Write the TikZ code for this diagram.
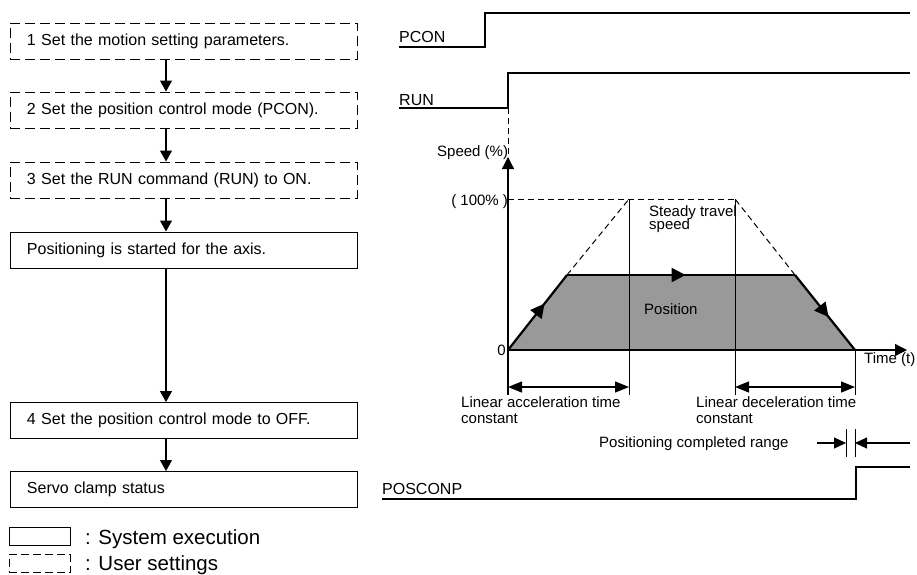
\documentclass[tikz,border=0pt]{standalone}
\usepackage{fontspec}
\setmainfont{Liberation Sans}
\usetikzlibrary{arrows.meta,decorations.markings}
\newcommand\flowfont{\fontsize{16}{19}\selectfont}
\newcommand\chartfont{\fontsize{15}{17}\selectfont}
\newcommand\sigfont{\fontsize{16}{19}\selectfont}
\newcommand\legfont{\fontsize{20.5}{24}\selectfont}
\definecolor{posgray}{RGB}{153,153,153}
\begin{document}
\begin{tikzpicture}[x=1pt,y=-1pt,
  sysbox/.style={draw, line width=1pt, minimum width=347pt, minimum height=36pt,
    text width=313pt, inner xsep=17pt, inner ysep=0pt, align=left, font=\flowfont},
  userbox/.style={sysbox, dash pattern=on 10pt off 5pt},
  flowarrow/.style={line width=1.2pt, -{Triangle[width=12pt,length=11pt]}},
  sig/.style={line width=1.3pt},
  guide/.style={line width=1pt},
  dashline/.style={line width=1pt, dash pattern=on 6pt off 4pt},
  axisline/.style={line width=1.3pt, -{Triangle[width=12pt,length=12pt]}},
  thickline/.style={line width=2.2pt},
  dimarrow/.style={line width=1.2pt, {Triangle[width=11pt,length=14pt]}-{Triangle[width=11pt,length=14pt]}},
  rangearrow/.style={line width=1.2pt, -{Triangle[width=11pt,length=12pt]}},
  chartlabel/.style={font=\chartfont, inner sep=0pt, anchor=base west},
  siglabel/.style={font=\sigfont, inner sep=0pt, anchor=base west},
  midarrow/.style={postaction={decorate}, decoration={markings,
    mark=at position #1 with {\arrow{Triangle[width=14pt,length=14pt]}}}}
]
\useasboundingbox (0,0) rectangle (917,574);

% ---------- flowchart ----------
\node[userbox] (b1) at (183.5,41) {1 Set the motion setting parameters.};
\node[userbox] (b2) at (183.5,110) {2 Set the position control mode (PCON).};
\node[userbox] (b3) at (183.5,180) {3 Set the RUN command (RUN) to ON.};
\node[sysbox] (b4) at (183.5,250) {Positioning is started for the axis.};
\node[sysbox] (b5) at (183.5,420.5) {4 Set the position control mode to OFF.};
\node[sysbox] (b6) at (183.5,489.5) {Servo clamp status};
\coordinate (ax) at (166,0);
\foreach \a/\b in {b1/b2,b2/b3,b3/b4,b4/b5,b5/b6}
  \draw[flowarrow] (\a.south -| ax) -- (\b.north -| ax);

% ---------- legend ----------
\node[draw, line width=1pt, minimum width=61pt, minimum height=18pt, inner sep=0pt] (lgs) at (39.5,536.5) {};
\node[draw, line width=1pt, dash pattern=on 8pt off 4pt, minimum width=61pt, minimum height=18pt, inner sep=0pt] (lgu) at (39.5,563.5) {};
\node[font=\legfont, inner sep=0pt, anchor=base west] (lgst) at (85,544) {: System execution};
\node[font=\legfont, inner sep=0pt, anchor=base west] (lgut) at (85,570.5) {: User settings};

% ---------- signals ----------
\node[siglabel] (pcon) at (399,42) {PCON};
\draw[sig] (399,47) -- (485,47) -- (485,13) -- (910,13);
\node[siglabel] (run) at (399,105) {RUN};
\draw[sig] (399,108) -- (508,108) -- (508,73) -- (910,73);
\node[siglabel] (poscon) at (382,494) {POSCONP};
\draw[sig] (382,499) -- (856,499) -- (856,467) -- (910,467);

% ---------- speed chart ----------
\fill[posgray] (508,350) -- (567,275) -- (795,275) -- (855,350) -- cycle;
\draw[dashline] (508,108) -- (508,157);
\draw[dashline] (508,199) -- (735,199);
\draw[dashline] (567,275) -- (629,199);
\draw[dashline] (795,275) -- (735,199);
\draw[guide] (629,199) -- (629,395);
\draw[guide] (735,199) -- (735,395);
\draw[guide] (855,350) -- (855,395);
\draw[axisline] (508,395) -- (508,157);
\draw[axisline] (508,350) -- (907,350);
\draw[thickline, midarrow=0.62] (508,350) -- (567,275);
\draw[thickline, midarrow=0.52] (567,275) -- (795,275);
\draw[thickline, midarrow=0.56] (795,275) -- (855,350);

\node[chartlabel] (speed) at (437,156) {Speed (\%)};
\node[chartlabel, anchor=base east] (hundred) at (508,205) {(\hspace{4pt}100\%\hspace{4pt})};
\node[chartlabel, anchor=base east] (zero) at (506,355.5) {0};
\node[chartlabel] (steady1) at (649,216) {Steady travel};
\node[chartlabel] (steady2) at (649,229.5) {speed};
\node[chartlabel] (pos) at (644,314) {Position};
\node[chartlabel] (time) at (864,363) {Time (t)};

\draw[dimarrow] (508,387) -- (629,387);
\draw[dimarrow] (735,387) -- (855,387);
\node[chartlabel] (acc1) at (461,407) {Linear acceleration time};
\node[chartlabel] (acc2) at (461,423) {constant};
\node[chartlabel] (dec1) at (696,407) {Linear deceleration time};
\node[chartlabel] (dec2) at (696,423) {constant};

\node[chartlabel] (range) at (599,447.5) {Positioning completed range};
\draw[guide] (846,429) -- (846,457);
\draw[guide] (855,429) -- (855,457);
\draw[rangearrow] (817,443) -- (846,443);
\draw[rangearrow] (910,443) -- (855,443);
\end{tikzpicture}
\end{document}
